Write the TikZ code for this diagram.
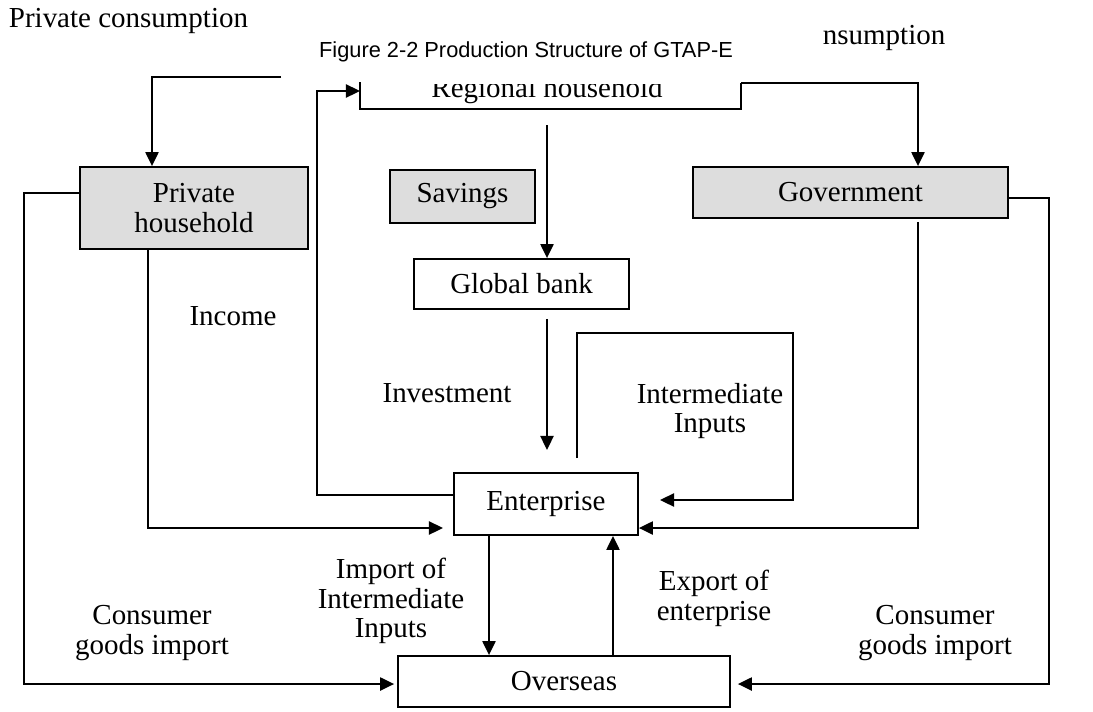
\documentclass[tikz,border=0pt]{standalone}
\usepackage{fontspec}
\setmainfont{Liberation Serif}
\newfontfamily\titlefont{Liberation Sans}
\usetikzlibrary{arrows.meta,calc}
\definecolor{boxgrey}{HTML}{DDDDDD}

\begin{document}
\begin{tikzpicture}[x=0.02cm, y=-0.02cm, line width=1.05pt,
font=\fontsize{16.5}{17}\selectfont,
% common options for boxes:
box/.style = {draw, align=center, inner sep=0},
greybox/.style = {box, fill=boxgrey},
% common options for the arrows:
arr/.style = {-{Triangle[length=8pt,width=7.5pt]}}]
\useasboundingbox (0,0) rectangle (1093,711);
\node[anchor=base west,inner sep=0] (pcl) at (8,27) {Private consumption};
\node[anchor=base west,inner sep=0] (gcl) at (822,44) {nsumption};
\node[font=\titlefont\fontsize{12.4}{15}\selectfont,anchor=base] (title) at (526,57) {Figure 2-2 Production Structure of GTAP-E};
% the boxes
\begin{scope}
\clip (362,84) rectangle (739,107);
\node[anchor=base] (rh) at (547,97) {Regional household};
\end{scope}
\node[greybox,minimum width=4.56cm,minimum height=1.64cm] (hh) at (194,208) {Private\\household};
\node[greybox,minimum width=2.9cm,minimum height=1.06cm] (sav) at (462.5,196.5) {Savings};
\node[greybox,minimum width=6.3cm,minimum height=1.02cm] (gov) at (850.5,192.5) {Government};
\node[box,minimum width=4.3cm,minimum height=1.0cm] (bank) at (521.5,284) {Global bank};
\node[box,minimum width=3.68cm,minimum height=1.24cm] (ent) at (546,504) {Enterprise};
\node[box,minimum width=6.64cm,minimum height=1.02cm] (ovs) at (564,681.5) {Overseas};
% the labels
\node (inc) at (233,316) {Income};
\node (inv) at (447,393) {Investment};
\node[align=center] (imd) at (710,411) {Intermediate\\Inputs};
\node[align=center] (imp) at (391,601) {Import of\\Intermediate\\Inputs};
\node[align=center] (exp) at (714,598) {Export of\\enterprise};
\node[align=center] (cgl) at (152,633) {Consumer\\goods import};
\node[align=center] (cgr) at (935,633) {Consumer\\goods import};
% free ends
\coordinate (pc) at (281,77);
\coordinate (rhL) at (360,82);
\coordinate (rhR) at (741,83);
\coordinate (rhIn) at (360,91);
\coordinate (rhB) at (547,125);
\coordinate (ivT) at (547,450);
\coordinate (imS) at (577,458);
\coordinate (imT) at (660,500);
\coordinate (hhT) at (443,528);
% regional household outline
\draw (rhL) |- (rhR |- 0,109) -- (rhR);
% the connectors
\draw[arr] (pc) -| ($(hh.north)+(-42,0)$);
\draw[arr] (rhR) -| ($(gov.north)+(67.5,0)$);
\draw[arr] (rhB) -- (rhB |- bank.north);
\draw[arr] ($(ivT |- bank.south)+(0,9)$) -- (ivT);
\draw[arr] ($(ent.west)+(0,-9)$) -- ++(-136,0) |- (rhIn);
\draw[arr] (imS) |- (793,333) |- (imT);
\draw[arr] ($(gov.south)+(67.5,3)$) |- ($(ent.east)+(0,24)$);
\draw[arr] ($(hh.south)+(-46,0)$) |- (hhT);
\draw[arr] ($(hh.west)+(0,-15)$) -- ++(-55,0) |- ($(ovs.west)+(-3,2.5)$);
\draw[arr] ($(gov.east)+(0,5.5)$) -- ++(40,0) |- ($(ovs.east)+(7,2.5)$);
\draw[arr] ($(ent.south)+(-57,0)$) -- ($(ovs.north)+(-75,0)$);
\draw[arr] ($(ovs.north)+(49,0)$) -- ($(ent.south)+(67,0)$);
\end{tikzpicture}
\end{document}
